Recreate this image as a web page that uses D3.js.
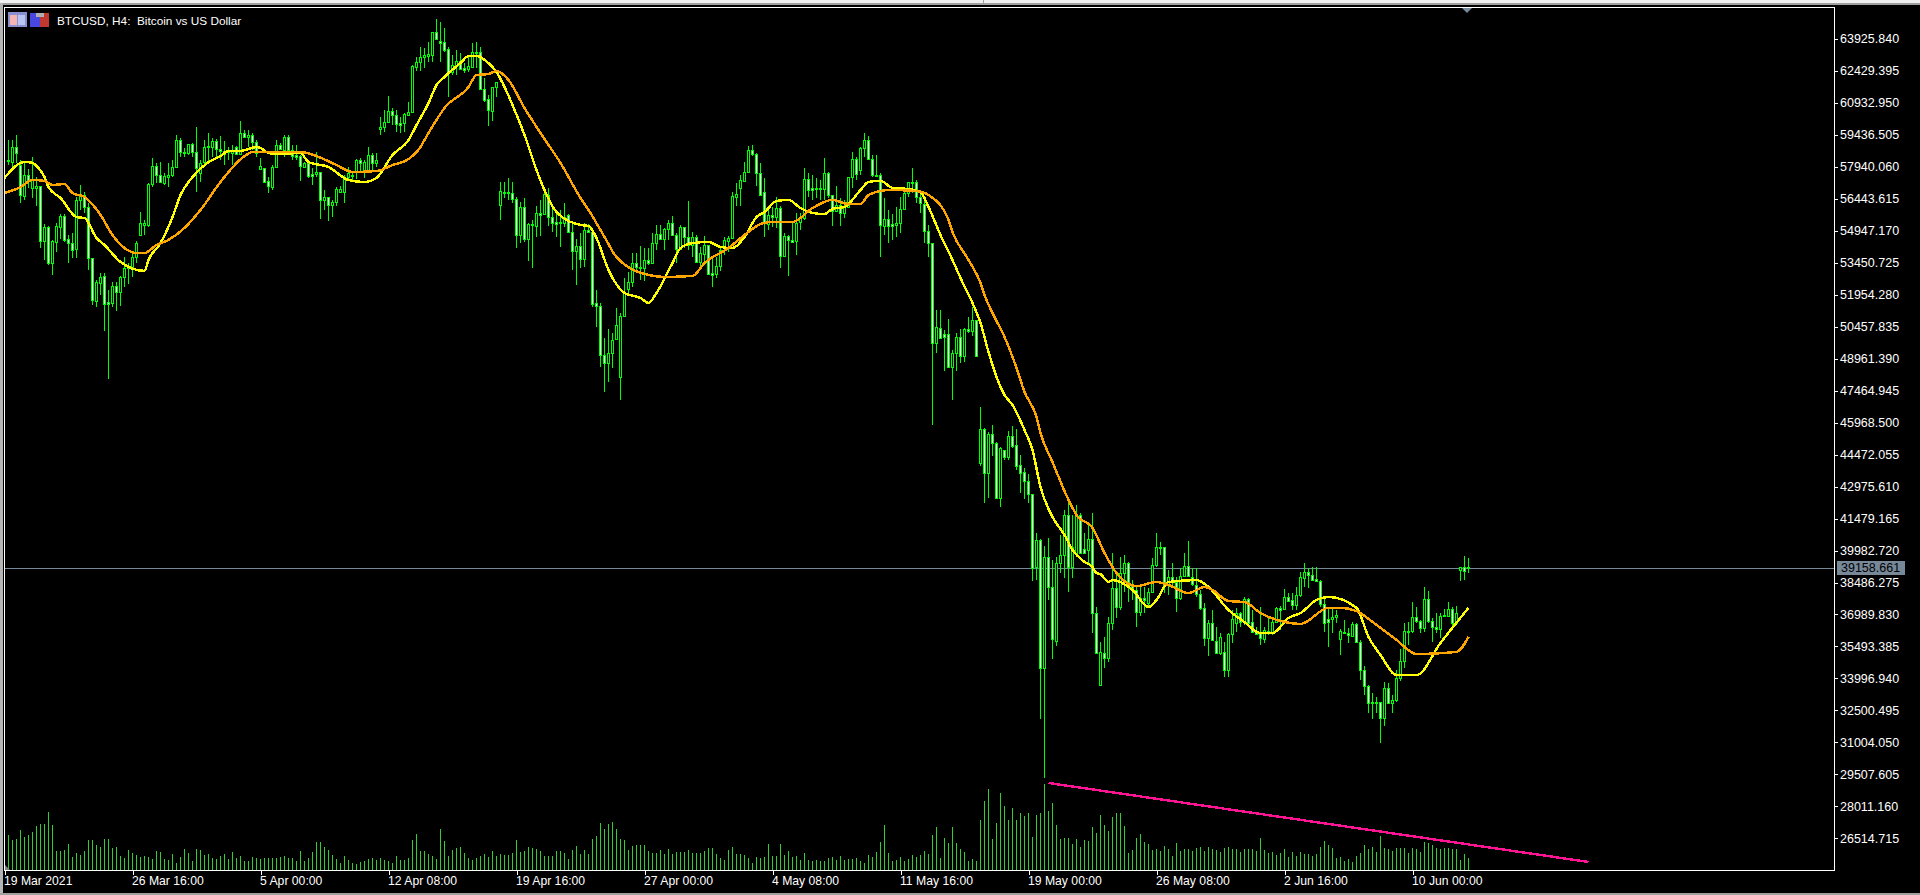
<!DOCTYPE html>
<html>
<head>
<meta charset="utf-8">
<title>BTCUSD, H4</title>
<script src="https://cdnjs.cloudflare.com/ajax/libs/d3/7.8.5/d3.min.js"></script>
<style>
    html, body { margin: 0; padding: 0; background: #000; overflow: hidden; }
    svg { display: block; }
    text { font-family: "Liberation Sans", Arial, sans-serif; font-size: 12.5px; fill: #fff; }
</style>
</head>
<body>
<div id="chart"></div>
<script>
// BTCUSD H4 bars, USD
const opens = [58250,58150,58850,58010,56560,57550,56940,56940,57030,54460,55110,53430,54410,55110,55630,54550,54360,54080,56380,56610,56050,53660,51650,52490,52820,51610,51560,52350,52070,52770,53200,53240,53710,54740,55210,55210,57120,57970,57550,57170,57450,57550,57920,59180,58620,58570,58990,58620,57640,58150,58850,58850,59140,58760,58670,58670,58570,58850,58530,59510,59320,59420,59090,57830,57870,57270,56980,57920,58950,58720,59320,58720,58480,58430,57920,58110,57590,57590,57690,56380,56520,56140,56280,56750,56750,57450,57550,57690,58250,57690,57780,58480,58110,59700,59790,60020,60540,60350,59980,59980,60350,60490,62600,62830,63060,63110,63160,64230,63810,63770,63440,62360,62690,62880,62550,62500,62600,63300,63300,61570,61100,60540,61660,56140,56700,56700,56700,56420,54740,56050,54550,55250,55160,55770,55720,56610,55580,55350,55300,55300,55680,54880,53990,54220,53620,54970,54880,51560,51420,49130,48750,49220,49880,48100,50950,52210,52540,53430,53240,53200,53570,53430,54360,54790,54550,55020,55300,54740,54080,55110,54650,54270,54650,53480,53850,54270,52960,52910,53290,54130,54460,54600,56520,56940,57270,57690,58720,58530,57640,56750,55250,55680,55580,56000,53760,54690,54510,54460,55350,55530,57360,56940,56890,56890,56890,57640,56610,55860,56140,55770,56050,57450,58290,57780,58810,59180,58290,57550,57550,55160,55490,55250,55210,55300,55960,56700,57170,57220,56520,56190,54930,54360,49690,50390,50110,50110,48560,49220,49970,49080,50340,50250,50760,44080,45670,43610,45430,45010,42440,44680,44360,45340,44920,43980,43650,43230,42630,39210,40470,34490,39680,38280,35750,39400,39770,41640,39210,39870,41640,40050,40010,40520,37060,33690,35190,34960,36590,38230,37340,38930,39400,38370,38140,37110,37760,37530,38040,39310,40150,40150,38370,38740,38510,37760,38790,39260,38740,38370,37950,37300,35890,36590,35750,35190,35240,34390,36080,36590,37060,36640,37710,36640,36170,36120,35840,36120,36170,36640,37300,37250,37810,37670,37430,37900,38700,38980,38840,38650,38560,37480,36780,36780,36870,35840,36170,36120,35980,36550,35700,34390,33650,32900,32850,32900,32150,33550,32850,32990,34020,34810,36170,36220,36870,36690,36360,37710,36690,36410,36310,36970,36920,37250,36590,39070,39210,39160];
const highs = [59180,59180,59420,58250,58150,57830,58390,57450,57030,55250,55160,54510,55300,55720,55720,54740,54830,56520,57080,56750,56240,53660,52630,52960,52960,52170,52540,52540,52820,53710,53430,53900,54460,55810,55440,57170,58340,58110,58150,57640,58110,58250,59420,59280,58810,58990,59040,59790,58250,59180,59510,59280,59230,59370,59140,58850,58950,58900,60070,59650,59650,59510,59180,58340,57870,57450,58010,59180,59040,59420,59420,58950,58950,58480,58150,58150,57870,58620,57690,56840,56520,56380,56980,57030,57550,57920,57640,58290,58340,58250,58850,58570,58570,60260,60590,61240,60680,60590,60260,60450,60960,62690,63060,63530,63480,63770,64230,64840,64700,64420,63530,63160,63390,63250,62780,63060,63720,63770,63530,62080,61290,61660,61890,57220,57220,57410,57220,56520,56280,56470,55300,55440,56100,56380,56940,56940,56050,55770,55910,56240,55720,55300,54550,54830,55300,55250,54880,52170,51560,49920,50340,50150,51320,51090,52730,53010,53900,53900,54220,54130,54130,54830,55210,55210,55070,55440,55630,54830,55210,55110,56330,54880,54740,54180,54690,54270,53710,53710,54130,54640,54690,56750,57170,57550,58150,58900,58950,58570,58110,57410,56050,56050,56520,56100,54830,54740,55350,55770,55770,57870,57640,57550,57410,57310,58340,57690,56610,57030,56470,56380,57450,58620,58390,58850,59510,59370,58480,58480,57640,56470,55910,55720,56050,56520,56840,57220,57870,57310,56750,56380,55210,54360,51230,51230,50300,50810,49360,50150,50340,50390,50900,51370,50760,46690,45710,45530,45850,45060,44820,44680,45570,45810,45670,44450,43840,43560,42630,40800,40520,40190,40570,39540,39680,40710,41880,42210,41640,42110,41740,40800,41180,41740,37340,35700,35940,36870,39870,38980,39680,39770,39450,38600,38320,38280,38280,38230,39630,40800,40380,40150,39070,39400,38740,39170,39870,40430,39170,39170,38140,37530,36730,37200,36400,36120,35700,36120,37200,37290,37110,37810,37760,37200,36400,37340,36400,36870,36730,37340,37390,38180,38000,38000,38280,38980,39400,39170,39210,39210,38600,37720,37290,37250,37200,36310,36730,36360,36640,36590,35800,34580,33690,33320,33130,32900,33830,33790,33230,34390,35380,36590,36640,37570,37340,36730,38280,38090,36830,37060,37060,37250,37570,37340,37390,39210,39730,39630];
const lows = [58010,57870,58110,56240,56380,56940,56470,56100,54130,53570,53340,52870,53940,54550,54410,53430,53660,53660,55910,55770,53100,51470,51370,51930,50250,48000,51370,51190,51420,52310,52450,52770,53430,54740,54740,55110,56980,57170,57170,57080,56980,57450,57870,58390,58390,58480,58390,56750,57220,58010,58150,58390,58340,58250,58010,58250,58010,58480,58480,59280,58850,58720,58390,57780,57220,56700,56840,57870,58720,58390,58570,58250,58250,57270,57870,57410,57080,57450,55490,55910,55390,55580,56100,56700,56240,57310,57220,57360,57640,57410,57690,57690,57920,59420,59560,59980,59880,59560,59510,59560,60350,60450,62410,62410,62550,62830,62830,63950,62830,63300,61190,62220,62220,62500,62310,62360,62600,62550,61520,60960,59840,60070,61190,55440,56470,56380,56240,54130,54360,54410,53520,53200,54650,54690,55680,55160,54880,54650,54180,55110,54830,53100,52400,53200,53240,54830,51370,50440,48560,47400,47870,48520,49830,47020,50900,52030,52310,53010,52630,52590,53340,53430,54040,54550,54040,54510,54690,53430,54040,54130,54040,53710,53430,53100,53430,52870,52310,52730,53060,53800,53940,54550,56100,56100,57220,57640,58430,57030,56610,54650,54970,55110,55070,53200,53710,52820,54410,53800,54970,55440,56520,56380,56470,56380,56380,56470,55160,55810,55160,55530,56000,56940,57310,57550,58390,58250,57450,57450,53710,54740,54360,54510,54650,54830,55910,56520,56700,56240,55770,54360,53710,45850,49220,49920,48380,48520,47020,48380,48750,48800,50160,50020,49030,43940,42200,42440,44400,42440,42020,44210,44210,44780,43750,42670,42390,42200,38560,38600,32100,29340,37670,34910,35520,38930,38700,38040,38700,39870,39870,39870,39400,36120,35190,33650,34490,34770,36260,36830,37200,38040,37570,37670,36410,36920,37060,37340,38040,39210,39770,38000,37900,38370,37110,37670,38740,38740,38320,37810,37200,35520,35050,35750,35190,35100,34070,34070,35660,36170,36410,36500,36500,36120,36030,35560,35660,36030,36030,36590,36260,37200,37570,37200,37200,37810,38280,38230,38600,38560,37340,36170,35470,36120,36590,35100,36080,35660,35940,35660,33930,33230,32380,32100,32380,30980,31780,32850,32380,32900,33880,34490,35560,36120,36590,36120,36170,36590,35700,36120,35890,36870,36870,36360,36500,38560,38600,38930];
const closes = [58200,58850,58570,56610,57550,57310,57310,57030,54460,55110,53430,54460,55160,55630,54510,54360,54040,56380,56660,56050,53660,51700,52540,52770,51510,51510,52350,52070,52770,53200,53240,53710,54360,55300,55300,57120,57970,57550,57220,57500,57550,57920,59180,58620,58570,58990,58620,57870,58110,58850,58900,59140,58760,58670,58530,58620,58670,58530,59510,59320,59420,59090,58570,57970,57220,57030,57920,58950,58760,59320,58720,58430,58390,57970,58110,57500,57500,57690,56380,56520,56140,56280,56890,56890,57450,57640,57500,58250,58110,58150,58480,58110,58250,59790,60020,60540,60350,59930,59880,60400,60490,62640,62830,63060,63160,63200,64230,63910,63720,63390,62310,62690,62880,62500,62460,62640,63300,63250,61570,61050,60590,61660,61890,56800,56750,56750,56420,54740,56050,54550,55250,55210,55770,55680,56660,55580,55300,55250,55350,55580,54880,53990,54220,53620,54970,54880,51510,51420,49130,48750,49220,49830,50530,50950,52030,52540,53430,53240,53200,53570,53430,54360,54790,54550,55020,55300,54740,54080,55110,54650,54270,54650,53480,53900,54270,52910,52870,53290,54040,54510,54600,56560,56660,57310,57690,58720,58530,57640,56610,55300,55680,55580,56000,53760,54690,54510,54410,55300,55530,57360,56840,56840,56940,56940,57640,56610,55860,56140,55770,56050,57450,58290,57590,58810,59180,58290,57550,57500,55210,55490,55160,55160,55300,55960,56700,57220,57220,56520,56240,54930,54360,49690,50440,49920,49970,48560,49220,49970,49080,50340,50250,50760,49080,45670,43610,45430,45010,42440,44780,44360,45340,44870,43940,43610,43230,42630,39160,40470,34490,39680,38280,35840,39400,39770,41640,39210,40150,41640,39870,39870,40520,37060,35190,35240,34960,36590,38230,37340,38930,39400,38470,38180,37110,37760,37670,38040,39310,40150,40100,38370,38740,38510,37760,38790,39260,38790,38420,37950,37300,35890,36590,35800,35190,35940,34390,36080,36780,37060,36640,37710,36590,36170,36080,35890,36260,36220,36640,37300,37200,37810,37620,37430,37900,38740,38980,38840,38600,38560,37480,36590,36640,36870,36970,36220,36120,36030,36550,35700,34390,33650,32850,32850,32900,32150,33550,32850,32990,34020,34810,36220,36220,36870,36690,36360,37710,36690,36410,36310,36920,36920,37250,36590,37060,39210,39020,39210];

// tick volume in hundreds
const volumes = [35,30,31,40,33,35,38,44,46,46,58,45,19,19,20,26,13,17,15,19,30,30,25,23,31,31,22,23,14,12,20,17,15,13,14,13,11,19,18,11,10,16,7,13,21,17,9,21,20,15,16,12,11,14,16,11,18,12,14,9,9,13,12,11,12,12,12,12,13,14,12,12,9,19,9,12,18,28,28,23,20,15,11,7,14,10,7,6,8,9,11,12,10,12,10,9,7,14,
    10,10,12,30,36,19,19,16,14,11,41,29,14,20,22,23,17,12,10,12,14,16,13,19,14,16,15,15,17,30,18,19,23,22,21,19,14,14,14,19,19,17,11,20,24,16,20,16,31,34,47,41,46,48,41,31,30,20,24,25,25,25,19,17,17,20,16,21,16,18,18,18,20,17,17,17,19,22,22,16,
    12,10,20,23,16,16,15,12,7,13,12,13,26,14,14,26,15,19,13,14,10,17,10,9,10,9,9,12,13,10,14,10,11,11,12,9,7,15,13,18,28,45,17,9,10,13,9,11,15,13,15,19,16,35,43,12,32,27,43,27,21,18,9,11,9,50,69,81,31,47,77,64,50,62,50,
    57,54,57,33,55,57,86,59,67,45,31,32,32,26,31,23,30,29,43,37,55,45,39,53,57,57,44,17,20,32,36,28,26,20,21,19,24,21,14,27,19,21,21,19,22,23,19,23,21,20,18,22,23,21,21,18,21,21,21,19,32,20,17,18,15,17,21,13,18,14,18,16,16,14,16,23,29,25,22,12,13,9,11,8,14,17,25,21,23,18,34,22,21,19,22,22,22,17,22,21,18,28,27,25,22,21,22,22,21,21,10,16,12];

// moving averages, read at the bars in the idx lists
const fastIdx = [-1,4,5,9,10,13,17,19,22,24,28,34,35,38,41,43,46,50,53,55,58,62,63,65,67,73,75,80,85,89,92,96,100,102,105,107,109,110,113,115,117,120,122,126,129,132,134,137,143,145,147,150,154,158,160,162,166,168,171,175,178,181,184,187,189,192,195,198,201,204,206,209,213,215,218,221,225,228,230,233,236,238,241,243,245,247,249,251,254,256,258,261,264,266,269,271,272,273,275,276,281,285,287,290,297,300,305,309,313,316,320,323,327,330,337,340,343,347,352,358,365];
const fastMa = [57410,58150,58150,57450,56980,56470,55580,55530,54600,54270,53480,53060,53570,54360,55580,56610,57450,58150,58430,58670,58670,58850,58810,58570,58530,58570,58150,57920,57310,57220,57410,58480,59180,59880,60910,61750,62130,62310,62780,63110,63110,62780,62360,60820,59420,57780,56840,55810,55210,55160,54600,53100,52030,51790,51560,52030,53430,54130,54360,54410,54180,54130,54640,55580,55810,56330,56380,56000,55770,55720,55960,56050,56840,57220,57270,56940,56890,56750,56050,54740,53570,52730,51560,50620,49270,48100,47260,46790,45620,44680,42950,41550,40710,40010,39450,39210,38930,38880,38510,38600,38140,37340,37670,38510,38600,38280,37200,36640,36120,36120,36830,37060,37670,37810,37300,35940,35100,34160,34160,35660,37300];
const slowIdx = [-1,3,6,9,11,14,16,19,23,26,32,34,37,40,44,48,53,59,61,73,77,82,86,92,96,100,103,104,107,109,115,117,120,122,125,129,133,138,143,145,149,152,160,164,171,174,180,184,188,191,196,201,206,210,213,215,220,227,230,235,236,240,243,244,246,249,252,254,257,258,261,265,267,271,274,277,282,287,290,295,299,301,305,309,313,319,323,330,333,337,341,347,352,362,365];
const slowMa = [56700,56980,57310,57270,57080,57120,56700,56520,55680,54740,53900,53900,54270,54510,55070,55910,57220,58430,58620,58620,58430,58010,57690,57730,58010,58290,58850,59180,60120,60680,61660,62220,62270,62410,61990,60680,59510,58110,56470,55910,54650,53710,52870,52780,52820,53430,54130,54740,55250,55350,55350,56000,56380,56190,56190,56610,56840,56800,56610,55440,54880,53570,52500,51930,51090,49970,48520,47400,46230,45480,44120,42350,41640,41040,39870,38930,38320,38510,38370,37990,38280,38140,37620,37570,37060,36640,36550,37300,37300,37150,36640,35800,35140,35240,35940];

// price ladder and time ladder of the axes
const priceTicks = [63925.840,62429.395,60932.950,59436.505,57940.060,56443.615,54947.170,53450.725,51954.280,50457.835,48961.390,47464.945,45968.500,44472.055,42975.610,41479.165,39982.720,38486.275,36989.830,35493.385,33996.940,32500.495,31004.050,29507.605,28011.160,26514.715];
const timeIdx = [-1,31,63,95,127,159,191,223,255,287,319,351];
const timeLabels = ['19 Mar 2021','26 Mar 16:00','5 Apr 00:00','12 Apr 08:00','19 Apr 16:00','27 Apr 00:00','4 May 08:00','11 May 16:00','19 May 00:00','26 May 08:00','2 Jun 16:00','10 Jun 00:00'];

const bidPrice = 39158.661;
const trendIdx = [260,395];
const trendPrice = [29110,25415];

let w = 1920;
let h = 895;
let plot = {left: 4, right: 1834, top: 7, bottom: 870};

let svg = d3.select('#chart')
    .append('svg')
    .attr('width', w)
    .attr('height', h);

svg.append('rect').attr('width', w).attr('height', h).attr('fill', '#000');

// window chrome
svg.append('rect').attr('width', w).attr('height', 3).attr('fill', '#f0f0f0');
svg.append('rect').attr('y', 3).attr('width', w).attr('height', 2).attr('fill', '#a0a0a0');
svg.append('rect').attr('x', 983).attr('width', 1).attr('height', 3).attr('fill', '#a0a0a0');
svg.append('rect').attr('y', 3).attr('width', 3).attr('height', h).attr('fill', '#b4b4b4');
svg.append('rect').attr('y', 893).attr('width', w).attr('height', 2).attr('fill', '#a0a0a0');

let xScale = d3.scaleLinear()
    .domain([0, 365])
    .range([8.5, 1468.5]);

let yScale = d3.scaleLinear()
    .domain([65356, 25040])
    .range([8, 870]);

let volScale = d3.scaleLinear()
    .domain([0, 86])
    .range([870, 784]);

const snap = v => Math.round(v) + 0.5;

svg.append('defs').append('clipPath').attr('id', 'plotClip')
    .append('rect')
    .attr('x', plot.left + 1)
    .attr('y', plot.top + 1)
    .attr('width', plot.right - plot.left - 1)
    .attr('height', plot.bottom - plot.top - 1);

let chart = svg.append('g')
    .attr('clip-path', 'url(#plotClip)')
    .style('shape-rendering', 'crispEdges');

// volumes
chart.selectAll('line.vol')
    .data(volumes)
    .enter()
    .append('line')
    .attr('class', 'vol')
    .attr('x1', (d, i) => xScale(i))
    .attr('x2', (d, i) => xScale(i))
    .attr('y1', d => volScale(d))
    .attr('y2', 870)
    .attr('stroke', '#32cd32');

// bid line
chart.append('line')
    .attr('x1', plot.left)
    .attr('x2', plot.right)
    .attr('y1', snap(yScale(bidPrice)))
    .attr('y2', snap(yScale(bidPrice)))
    .attr('stroke', '#778899');

// wicks
chart.selectAll('line.wick')
    .data(highs)
    .enter()
    .append('line')
    .attr('class', 'wick')
    .attr('x1', (d, i) => xScale(i))
    .attr('x2', (d, i) => xScale(i))
    .attr('y1', d => yScale(d))
    .attr('y2', (d, i) => yScale(lows[i]))
    .attr('stroke', '#00ff00');

// bodies, white falling and black rising as in the terminal
chart.selectAll('rect.body')
    .data(opens)
    .enter()
    .append('rect')
    .attr('class', 'body')
    .attr('x', (d, i) => xScale(i) - 1)
    .attr('width', 2)
    .attr('y', (d, i) => snap(yScale(Math.max(d, closes[i]))))
    .attr('height', (d, i) => Math.max(1, Math.round(Math.abs(yScale(d) - yScale(closes[i])))))
    .attr('fill', (d, i) => closes[i] < d ? '#fff' : '#000')
    .attr('stroke', '#00ff00');

// moving averages
const maLine = idx => d3.line()
    .x((d, i) => xScale(idx[i]))
    .y(d => yScale(d))
    .curve(d3.curveMonotoneX);

chart.append('path')
    .attr('d', maLine(fastIdx)(fastMa))
    .attr('fill', 'none')
    .attr('stroke', '#ffff00')
    .style('stroke-width', 2.4);

chart.append('path')
    .attr('d', maLine(slowIdx)(slowMa))
    .attr('fill', 'none')
    .attr('stroke', '#ffa500')
    .style('stroke-width', 2.4);

// trend line
chart.append('line')
    .attr('x1', xScale(trendIdx[0]))
    .attr('x2', xScale(trendIdx[1]))
    .attr('y1', yScale(trendPrice[0]))
    .attr('y2', yScale(trendPrice[1]))
    .attr('stroke', '#ff1493')
    .style('stroke-width', 2.4);

// frame
svg.append('rect')
    .attr('x', plot.left + 0.5)
    .attr('y', plot.top + 0.5)
    .attr('width', plot.right - plot.left)
    .attr('height', plot.bottom - plot.top)
    .attr('fill', 'none')
    .attr('stroke', '#fff');

// axes
let yAxis = d3.axisRight(yScale)
    .tickValues(priceTicks)
    .tickFormat(d3.format('.3f'))
    .tickSize(4)
    .tickPadding(2);

let yAxisG = svg.append('g')
    .attr('transform', 'translate(' + plot.right + ',0)')
    .call(yAxis);

let xAxis = d3.axisBottom(xScale)
    .tickValues(timeIdx)
    .tickFormat((d, i) => timeLabels[i])
    .tickSize(5)
    .tickPadding(1);

let xAxisG = svg.append('g')
    .attr('transform', 'translate(0,' + plot.bottom + ')')
    .call(xAxis);

[yAxisG, xAxisG].forEach(g => {
    g.select('.domain').remove();
    g.selectAll('line').attr('stroke', '#fff').style('shape-rendering', 'crispEdges');
    g.selectAll('text').attr('fill', '#fff').style('font-family', '"Liberation Sans", Arial, sans-serif').style('font-size', '12.5px');
});
xAxisG.selectAll('text').attr('text-anchor', 'start').attr('dx', -1).style('font-size', '12.2px');

// bid tag
svg.append('rect')
    .attr('x', 1837)
    .attr('y', 561)
    .attr('width', 68)
    .attr('height', 14)
    .attr('fill', '#778899');

svg.append('text')
    .attr('x', 1841)
    .attr('y', 572)
    .style('fill', '#000')
    .text(d3.format('.3f')(bidPrice));

// title and the two little icons
svg.append('text')
    .attr('x', 57)
    .attr('y', 25)
    .style('white-space', 'pre')
    .style('font-size', '11.8px')
    .text('BTCUSD, H4:  Bitcoin vs US Dollar');

let icons = svg.append('g').style('shape-rendering', 'crispEdges');
icons.append('rect').attr('x', 8).attr('y', 12).attr('width', 19).attr('height', 15).attr('fill', '#8a8fd0');
icons.append('rect').attr('x', 10).attr('y', 15).attr('width', 7).attr('height', 10).attr('fill', '#f4b4b4');
icons.append('rect').attr('x', 18).attr('y', 15).attr('width', 7).attr('height', 10).attr('fill', '#b8c4f4');
icons.append('rect').attr('x', 30).attr('y', 13).attr('width', 10).attr('height', 14).attr('fill', '#4848e0');
icons.append('rect').attr('x', 40).attr('y', 13).attr('width', 9).attr('height', 14).attr('fill', '#c03830');
icons.append('rect').attr('x', 36).attr('y', 13).attr('width', 8).attr('height', 4).attr('fill', '#b0b0b0');

// shift marker at the top, and the small mark at the lower left
svg.append('path').attr('d', 'M1462,8L1472,8L1467,13Z').attr('fill', '#778899');
svg.append('path').attr('d', 'M5,865L10,870L5,870Z').attr('fill', '#808080');
</script>
</body>
</html>
